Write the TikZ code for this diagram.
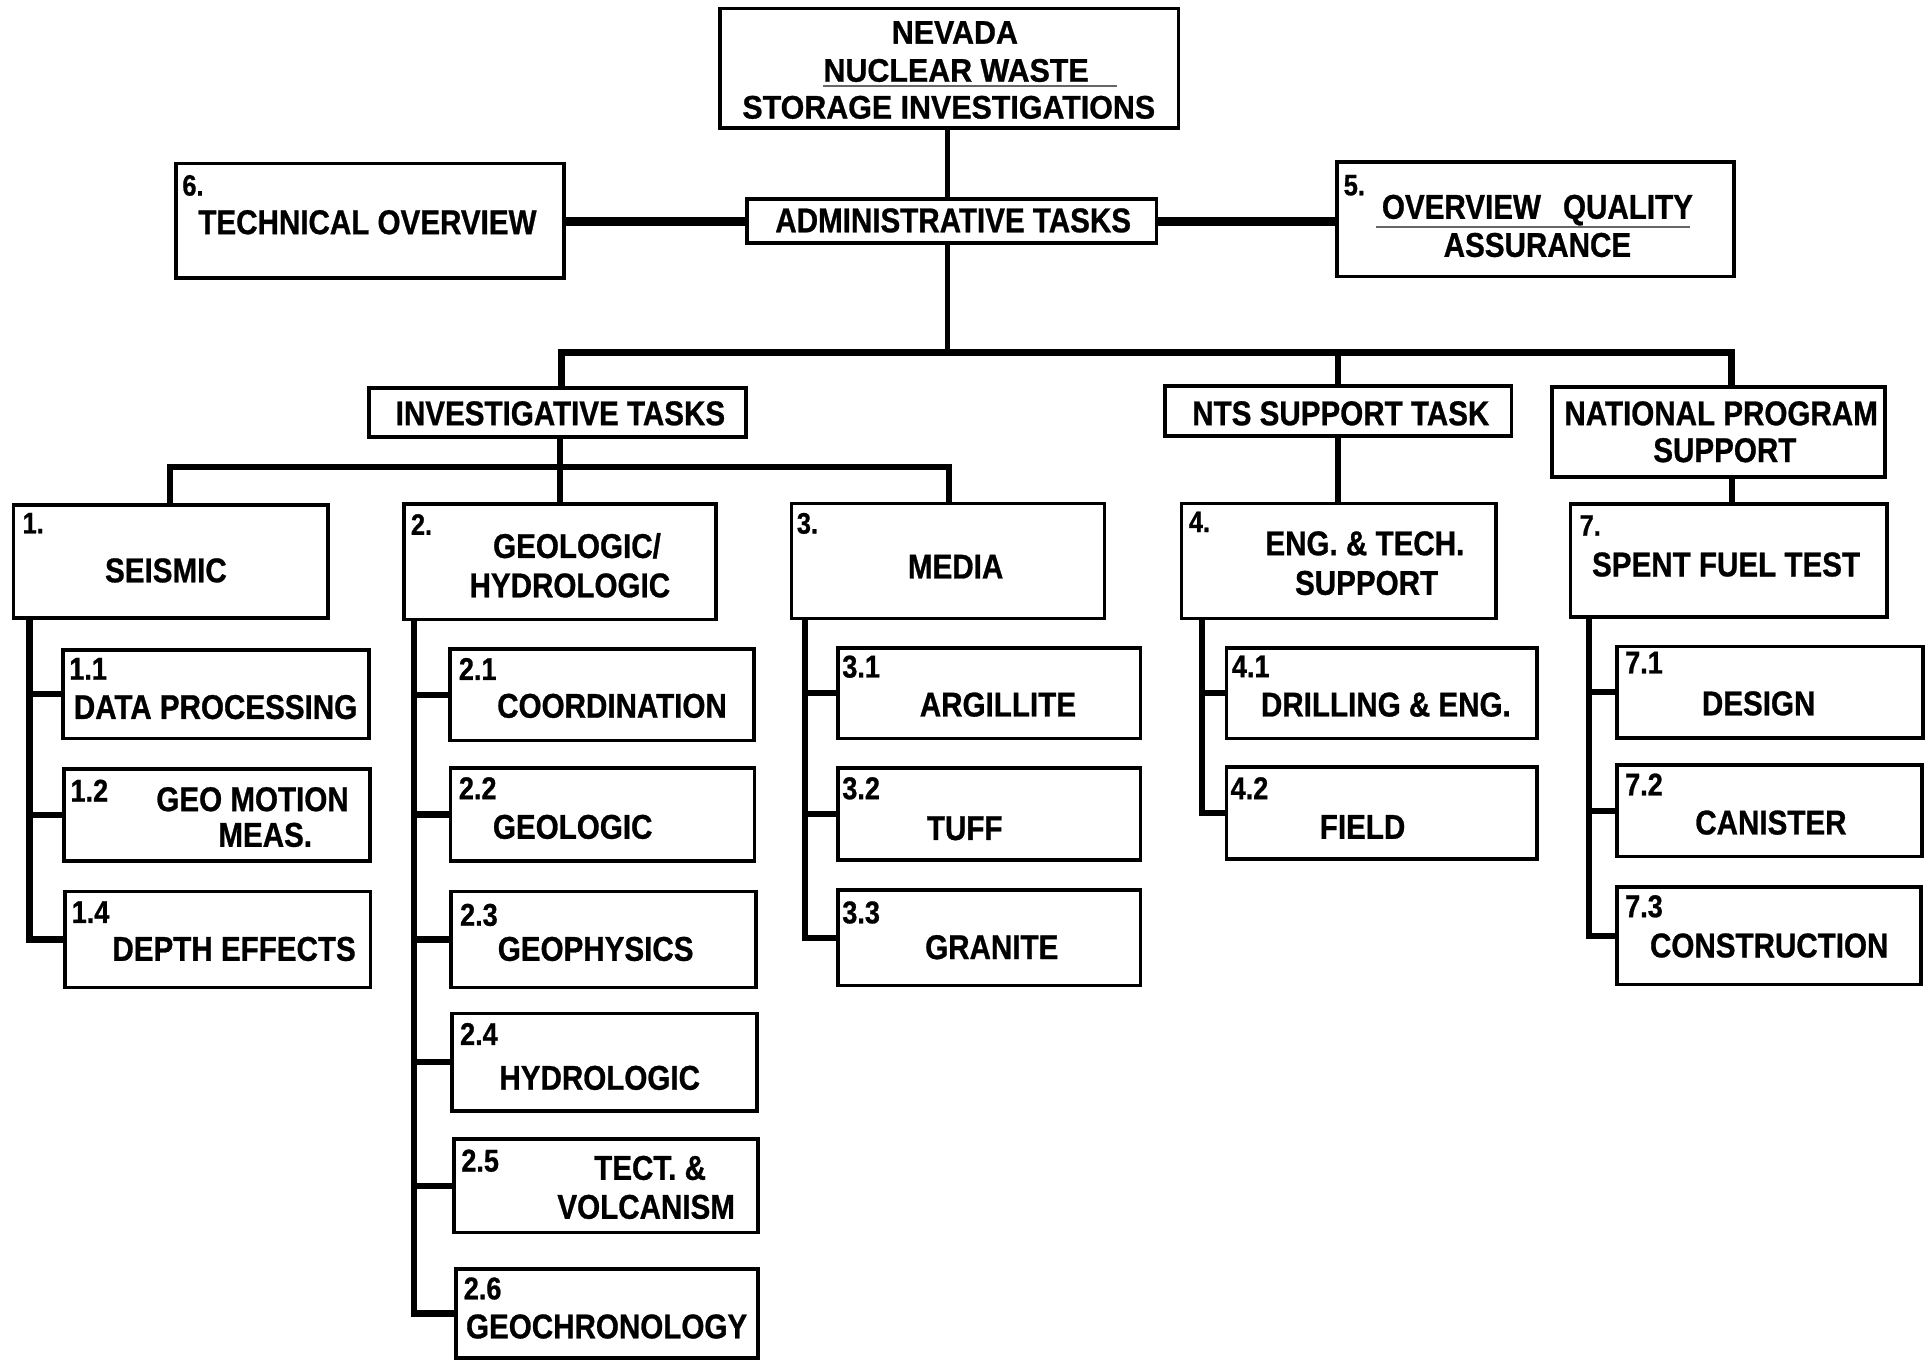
\documentclass[tikz,border=0pt]{standalone}
\usepackage{fontspec}
\setmainfont{Liberation Sans}[FakeStretch=0.86, BoldFeatures={FakeBold=0.8}]
\newfontfamily\titlefont{Liberation Sans}[FakeStretch=0.93, BoldFeatures={FakeBold=0.8}]
\usetikzlibrary{fit}
\tikzset{
  box/.style={draw, line width=1.5pt, inner sep=0pt},
  txt/.style={font=\bfseries\fontsize{14}{16}\selectfont, inner sep=0pt, anchor=base},
  ttl/.style={font=\titlefont\bfseries\fontsize{13.3}{15}\selectfont, inner sep=0pt, anchor=base},
  pnum/.style={font=\bfseries\fontsize{12}{12}\selectfont, inner sep=0pt, anchor=north west},
  cnum/.style={font=\bfseries\fontsize{12.8}{12.8}\selectfont, inner sep=0pt, anchor=north west},
  conn/.style={line width=2.4pt},
  heavy/.style={line width=3.5pt},
  busline/.style={line width=2.9pt},
  spine/.style={line width=2.5pt},
  scanline/.style={line width=0.7pt, black!60}
}
\begin{document}
\begin{tikzpicture}[x=0.5pt,y=-0.5pt]
\useasboundingbox (0,0) rectangle (1568,1107);
% ---- boxes ----
\node[box, fit={(586,7) (959,104)}] (top) {};
\node[box, fit={(608,162) (941,198)}] (admin) {};
\node[box, fit={(143,133) (459,226)}] (tech) {};
\node[box, fit={(1088,132) (1411,225)}] (qa) {};
\node[box, fit={(300,315.5) (607,355.5)}] (inv) {};
\node[box, fit={(948,314) (1230,355)}] (nts) {};
\node[box, fit={(1263,315) (1534,388)}] (natl) {};
\node[box, fit={(11,411) (267,503)}] (s1) {};
\node[box, fit={(329,410) (582.5,504)}] (geo) {};
\node[box, fit={(644,409.7) (898.6,503.3)}] (media) {};
\node[box, fit={(961.5,409.7) (1217,503.3)}] (eng) {};
\node[box, fit={(1278,410) (1535.5,502)}] (spent) {};
\node[box, fit={(51.5,529) (300,601)}] (c11) {};
\node[box, fit={(52,626) (301,700.6)}] (c12) {};
\node[box, fit={(53,725.5) (301.4,803.5)}] (c14) {};
\node[box, fit={(366,528) (613.5,602.5)}] (c21) {};
\node[box, fit={(366.5,625) (614,700.5)}] (c22) {};
\node[box, fit={(367,725.5) (615,803.5)}] (c23) {};
\node[box, fit={(368,824.8) (616,904)}] (c24) {};
\node[box, fit={(369.5,927) (616.5,1003)}] (c25) {};
\node[box, fit={(371,1032.6) (617,1105)}] (c26) {};
\node[box, fit={(681.7,527) (928,601)}] (c31) {};
\node[box, fit={(681.7,624.8) (928,699.5)}] (c32) {};
\node[box, fit={(682,724) (928,802)}] (c33) {};
\node[box, fit={(998,527) (1250.5,601)}] (c41) {};
\node[box, fit={(998,624) (1250.5,699)}] (c42) {};
\node[box, fit={(1315.5,526) (1565,600.5)}] (c71) {};
\node[box, fit={(1316,622.5) (1564,697)}] (c72) {};
\node[box, fit={(1315.7,721.8) (1563,801)}] (c73) {};
% ---- texts ----
\node[ttl] (topa) at (777,35.5) {NEVADA};
\node[ttl] (topb) at (778,66.5) {NUCLEAR WASTE};
\node[ttl] (topc) at (772,96.5) {STORAGE INVESTIGATIONS};
\draw[scanline] (670,70) -- (909,70);
\node[txt] (admint) at (775.6,189) {ADMINISTRATIVE TASKS};
\node[pnum] (technum) at (148,142) {6.};
\node[txt] (techt) at (299,190.5) {TECHNICAL OVERVIEW};
\node[pnum] (qanum) at (1093,142) {5.};
\node[txt] (qaa) at (1251,178) {OVERVIEW\hspace{9pt}QUALITY};
\draw[scanline] (1120,185) -- (1375,185);
\node[txt] (qab) at (1251,209) {ASSURANCE};
\node[txt] (invt) at (456,346) {INVESTIGATIVE TASKS};
\node[txt] (ntst) at (1091,346) {NTS SUPPORT TASK};
\node[txt] (natla) at (1400.5,346) {NATIONAL PROGRAM};
\node[txt] (natlb) at (1403.5,376) {SUPPORT};
\node[pnum] (s1num) at (18,417) {1.};
\node[txt] (s1t) at (135,473.8) {SEISMIC};
\node[pnum] (geonum) at (334,418) {2.};
\node[txt] (geoa) at (469.5,454) {GEOLOGIC/};
\node[txt] (geob) at (463.7,486) {HYDROLOGIC};
\node[pnum] (medianum) at (648,417) {3.};
\node[txt] (mediat) at (777.6,470.7) {MEDIA};
\node[pnum] (engnum) at (967,416) {4.};
\node[txt] (enga) at (1110.6,451.8) {ENG. \& TECH.};
\node[txt] (engb) at (1112,484) {SUPPORT};
\node[pnum] (spentnum) at (1285,419) {7.};
\node[txt] (spentt) at (1404.5,469) {SPENT FUEL TEST};
\node[cnum] (c11n) at (56,535) {1.1};
\node[txt] (c11t) at (175.4,585) {DATA PROCESSING};
\node[cnum] (c12n) at (57,634) {1.2};
\node[txt] (c12a) at (205.5,660) {GEO MOTION};
\node[txt] (c12b) at (215.8,689) {MEAS.};
\node[cnum] (c14n) at (58,733) {1.4};
\node[txt] (c14t) at (190.5,781.8) {DEPTH EFFECTS};
\node[cnum] (c21n) at (373,535) {2.1};
\node[txt] (c21t) at (498,584) {COORDINATION};
\node[cnum] (c22n) at (373,632) {2.2};
\node[txt] (c22t) at (466,682.5) {GEOLOGIC};
\node[cnum] (c23n) at (374,735) {2.3};
\node[txt] (c23t) at (484.7,781.8) {GEOPHYSICS};
\node[cnum] (c24n) at (374,832) {2.4};
\node[txt] (c24t) at (488,886.7) {HYDROLOGIC};
\node[cnum] (c25n) at (375,935) {2.5};
\node[txt] (c25a) at (529,960) {TECT. \&};
\node[txt] (c25b) at (525.8,991.7) {VOLCANISM};
\node[cnum] (c26n) at (377,1039) {2.6};
\node[txt] (c26t) at (493.6,1089) {GEOCHRONOLOGY};
\node[cnum] (c31n) at (685,533) {3.1};
\node[txt] (c31t) at (812,583) {ARGILLITE};
\node[cnum] (c32n) at (685,632) {3.2};
\node[txt] (c32t) at (785,683.5) {TUFF};
\node[cnum] (c33n) at (685,733) {3.3};
\node[txt] (c33t) at (807,780.4) {GRANITE};
\node[cnum] (c41n) at (1002,533) {4.1};
\node[txt] (c41t) at (1127.7,583) {DRILLING \& ENG.};
\node[cnum] (c42n) at (1001,632) {4.2};
\node[txt] (c42t) at (1108.7,682.5) {FIELD};
\node[cnum] (c71n) at (1322,530) {7.1};
\node[txt] (c71t) at (1431,582) {DESIGN};
\node[cnum] (c72n) at (1322,629) {7.2};
\node[txt] (c72t) at (1441,679) {CANISTER};
\node[cnum] (c73n) at (1322,728) {7.3};
\node[txt] (c73t) at (1439.6,779) {CONSTRUCTION};
% ---- connectors ----
\coordinate (bus) at (771,287);
\coordinate (busL) at (457,287);
\coordinate (busR) at (1409,287);
\draw[conn] (top.south -| bus) -- (admin.north -| bus);
\draw[heavy] (admin.west) -- (admin.west -| tech.east);
\draw[heavy] (admin.east) -- (admin.east -| qa.west);
\draw[conn] (admin.south -| bus) -- (bus);
\draw[busline] (inv.north -| busL) -- (busL) -- (busR) -- (natl.north -| busR);
\draw[conn] (nts.north) -- (nts.north |- bus);
\coordinate (b2a) at (138,380);
\coordinate (b2c) at (772,380);
\draw[conn] (inv.south -| geo.north) -- (geo.north);
\draw[conn] (s1.north -| b2a) -- (b2a) -- (b2c) -- (media.north -| b2c);
\draw[conn] (nts.south) -- (nts.south |- eng.north);
\draw[conn] (natl.south -| busR) -- (spent.north -| busR);
% spines
\coordinate (sp1) at (24,503);
\draw[spine] (s1.south -| sp1) |- (c14.west);
\draw[spine] (c11.west -| sp1) -- (c11.west);
\draw[spine] (c12.west -| sp1) -- (c12.west);
\coordinate (sp2) at (337,504);
\draw[spine] (geo.south -| sp2) |- (c26.west);
\draw[spine] (c21.west -| sp2) -- (c21.west);
\draw[spine] (c22.west -| sp2) -- (c22.west);
\draw[spine] (c23.west -| sp2) -- (c23.west);
\draw[spine] (c24.west -| sp2) -- (c24.west);
\draw[spine] (c25.west -| sp2) -- (c25.west);
\coordinate (sp3) at (655,503);
\draw[spine] (media.south -| sp3) |- (c33.west);
\draw[spine] (c31.west -| sp3) -- (c31.west);
\draw[spine] (c32.west -| sp3) -- (c32.west);
\coordinate (sp4) at (978,503);
\draw[spine] (eng.south -| sp4) |- (c42.west);
\draw[spine] (c41.west -| sp4) -- (c41.west);
\coordinate (sp7) at (1293,502);
\draw[spine] (spent.south -| sp7) |- (c73.west);
\draw[spine] (c71.west -| sp7) -- (c71.west);
\draw[spine] (c72.west -| sp7) -- (c72.west);
\end{tikzpicture}
\end{document}
